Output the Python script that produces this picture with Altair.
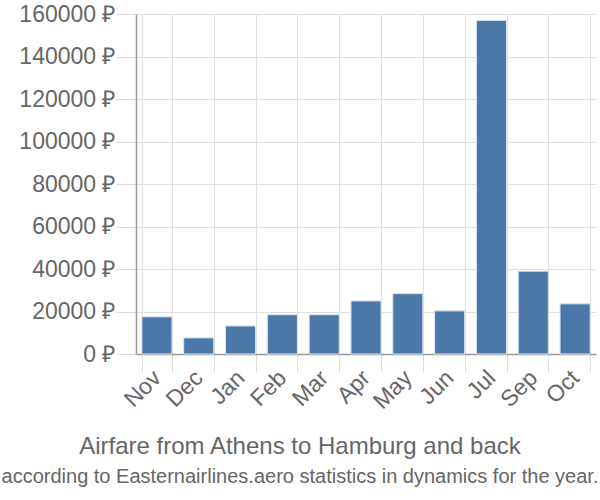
import altair as alt
import pandas as pd

months = ["Nov", "Dec", "Jan", "Feb", "Mar", "Apr", "May", "Jun", "Jul", "Sep", "Oct"]
prices = [17500, 7600, 13200, 18500, 18500, 25000, 28400, 20300, 157000, 39000, 23600]

df = pd.DataFrame({"month": months, "price": prices})

chart = alt.Chart(df).mark_bar(
    color="#4c78a8", stroke="#dde6f0", strokeWidth=1
).encode(
    x=alt.X("month:N", sort=months, title=None,
            scale=alt.Scale(paddingInner=0.28, paddingOuter=0.14),
            axis=alt.Axis(labelAngle=-45, labelAlign="right", labelBaseline="middle",
                          tickBand="extent", tickSize=18, labelFontSize=23,
                          labelPadding=2, grid=True)),
    y=alt.Y("price:Q", title=None,
            scale=alt.Scale(domain=[0, 160000]),
            axis=alt.Axis(values=[0, 20000, 40000, 60000, 80000, 100000, 120000, 140000, 160000],
                          labelExpr="datum.value + ' ₽'", tickSize=20, labelFontSize=23,
                          labelPadding=1, grid=True)),
).properties(
    width=460, height=340,
    title=alt.TitleParams(
        text="Airfare from Athens to Hamburg and back",
        subtitle="according to Easternairlines.aero statistics in dynamics for the year.",
        orient="bottom", anchor="middle", fontSize=24, subtitleFontSize=20,
        font="Liberation Sans", subtitleFont="Liberation Sans",
        color="#666666", subtitleColor="#666666", fontWeight="normal",
        offset=22, subtitlePadding=8, dx=-66,
    ),
    padding={"left": 136, "top": 14, "right": 4, "bottom": 146},
    autosize=alt.AutoSizeParams(type="none"),
).configure_axis(
    labelColor="#666666", labelFont="Liberation Sans", gridColor="#e0e0e0",
    domainColor="#999999", tickColor="#dddddd", domainWidth=1.5
).configure_view(stroke=None)

chart.save("out.html", embed_options={"renderer": "svg", "actions": False})
